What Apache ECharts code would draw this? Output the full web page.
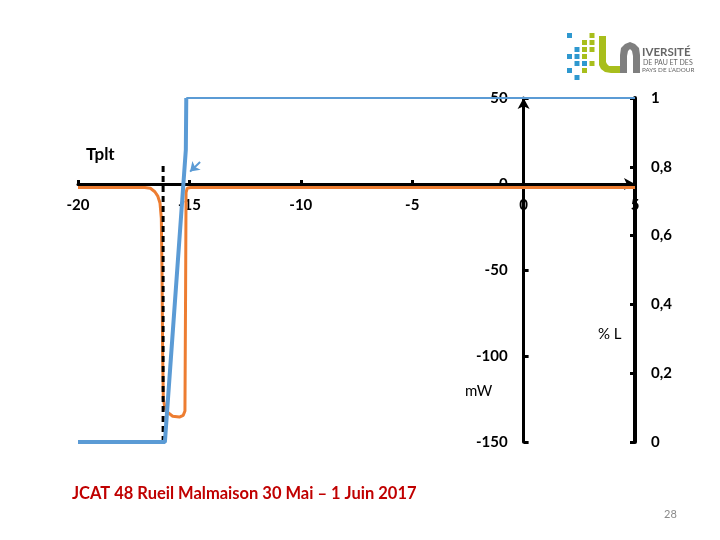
<!DOCTYPE html>
<html>
<head>
<meta charset="utf-8">
<script src="https://cdn.jsdelivr.net/npm/echarts@6/dist/echarts.min.js"></script>
<style>html,body{margin:0;padding:0;background:#fff;}#c{width:720px;height:540px;}</style>
</head>
<body>
<div id="c"></div>
<script>
// ---- data ----
const xTicks = [-20, -15, -10, -5, 0, 5];
const mWTicks = [-150, -100, -50, 0, 50];
const pctTicks = [0, 0.2, 0.4, 0.6, 0.8, 1];

// orange: power (mW) vs temperature
const orangeX = [-20, -17.0, -16.75, -16.55, -16.42, -16.32, -16.26, -16.23, -16.2, -16.17, -16.1, -16.0, -15.75, -15.45, -15.28, -15.2, -15.17, -15.15, -15.1, -14.95, 5];
const orangeY = [-2, -2, -2.5, -4.5, -7, -11, -20, -50, -100, -125, -130, -132.5, -135, -135.5, -134.5, -132, -60, -5, -2.5, -2, -2];

// blue: % liquid (thick rising part, then thin plateau)
const blueX = [-20, -16.1, -15.16, -15.14];
const blueY = [0, 0, 0.85, 1];
const bluePlateauX = [-15.14, 5];
const bluePlateauY = [1, 1];

// dashed vertical marker (Tplt)
const dashedX = [-16.18, -16.18];
const dashedY = [-150, 12];

// small arrow annotation (data units, mW axis)
const arrowFrom = [-14.52, 12.8];
const arrowTo = [-14.97, 7.2];

const zip = (a, b) => a.map((v, i) => [v, b[i]]);

const FONT = 'Lato';
const chart = echarts.init(document.getElementById('c'), null, {renderer: 'canvas'});

// layout
const G = {left: 78, right: 85, top: 98, bottom: 98};
const gw = 720 - G.left - G.right, gh = 540 - G.top - G.bottom;
const xMin = -20, xMax = 5, yMin = -150, yMax = 50;
const xAxisOffset = -(gh * (0 - yMin) / (yMax - yMin));   // move x axis up to mW = 0
const yAxisOffset = -(gw * (0 - xMin) / (xMax - xMin));   // move mW axis right to T = 0

const logoSquares = [
  [0,0,'b'],[3,0,'g'],
  [2,1,'g'],[3,1,'g'],
  [1,2,'b'],[2,2,'g'],[3,2,'g'],
  [0,3,'b'],[1,3,'b'],[2,3,'g'],
  [1,4,'b'],[2,4,'b'],[3,4,'g'],
  [0,5,'b'],[2,5,'g'],
  [1,6,'b']
];

const graphics = [
  {type:'text', x:86, y:146, style:{text:'Tplt', font:'bold 17px ' + FONT, fill:'#000'}},
  {type:'text', x:465, y:384, style:{text:'mW', font:'15px ' + FONT, fill:'#000'}},
  {type:'text', x:598, y:327, style:{text:'% L', font:'15px ' + FONT, fill:'#000'}},
  {type:'text', x:72, y:485, style:{text:'JCAT 48 Rueil Malmaison 30 Mai \u2013 1 Juin 2017', font:'bold 16.5px ' + FONT, fill:'#C00000'}},
  {type:'text', x:664, y:509, style:{text:'28', font:'11px ' + FONT, fill:'#8a8a8a'}},
  {type:'polygon', shape:{points:[[599,36],[606,36],[606,62],[607,64],[609,66],[612,66],[620,66],[620,73],[611,73],[605,72],[601,69],[599,65]]}, style:{fill:'#A8BE1C'}},
  {type:'polygon', shape:{points:[[620,73],[620,55],[621,48],[625,44],[630,42],[635,44],[639,48],[640,55],[640,73],[633,73],[633,56],[632,51],[630,49],[628,51],[627,56],[627,73]]}, style:{fill:'#7f7f7f'}},
  {type:'text', x:642, y:46, style:{text:'IVERSITÉ', font:'bold 11.5px ' + FONT, fill:'#666'}},
  {type:'text', x:643, y:59.5, style:{text:'DE PAU ET DES', font:'7px ' + FONT, fill:'#666'}},
  {type:'text', x:642, y:67, style:{text:'PAYS DE L\u2019ADOUR', font:'6.3px ' + FONT, fill:'#666'}}
];
logoSquares.forEach(([c, r, col]) => {
  graphics.push({type:'rect', shape:{x:567 + c*7.5, y:33 + r*7, width:5, height:5},
    style:{fill: col === 'b' ? '#2E98CF' : '#A8BE1C'}});
});

const tickLabel = {color: '#000', fontSize: 15, fontWeight: 'bold', fontFamily: FONT};

const option = {
  backgroundColor: '#ffffff',
  animation: false,
  textStyle: {fontFamily: FONT},
  grid: {left: G.left, right: G.right, top: G.top, bottom: G.bottom, containLabel: false},
  xAxis: {
    type: 'value', min: xMin, max: xMax, interval: 5, position: 'bottom', offset: xAxisOffset,
    axisLine: {show: true, onZero: false, symbol: ['none', 'arrow'], symbolSize: [9, 11],
      lineStyle: {color: '#000', width: 3}},
    axisTick: {show: true, inside: true, length: 4, lineStyle: {color: '#000', width: 3}},
    axisLabel: Object.assign({}, tickLabel, {margin: 14,
      formatter: v => xTicks.includes(v) ? String(v) : ''}),
    splitLine: {show: false}
  },
  yAxis: [
    {
      type: 'value', min: yMin, max: yMax, interval: 50, position: 'left', offset: yAxisOffset,
      axisLine: {show: true, onZero: false, symbol: ['none', 'arrow'], symbolSize: [9, 11],
        lineStyle: {color: '#000', width: 3}},
      axisTick: {show: true, inside: true, length: 5, lineStyle: {color: '#000', width: 3}},
      axisLabel: Object.assign({}, tickLabel, {margin: 16,
        formatter: v => mWTicks.includes(v) ? String(v) : ''}),
      splitLine: {show: false}
    },
    {
      type: 'value', min: 0, max: 1, interval: 0.2, position: 'right',
      axisLine: {show: true, onZero: false, lineStyle: {color: '#000', width: 4}},
      axisTick: {show: true, inside: true, length: 5, lineStyle: {color: '#000', width: 3}},
      axisLabel: Object.assign({}, tickLabel, {margin: 16,
        formatter: v => {
          const t = pctTicks.find(p => Math.abs(p - v) < 1e-9);
          return t === undefined ? '' : String(+t.toFixed(1)).replace('.', ',');
        }}),
      splitLine: {show: false}
    }
  ],
  series: [
    {
      type: 'line', yAxisIndex: 0, data: zip(orangeX, orangeY), showSymbol: false, symbol: 'none',
      lineStyle: {color: '#ED7D31', width: 3}, z: 3
    },
    {
      type: 'line', yAxisIndex: 0, data: zip(dashedX, dashedY), showSymbol: false, symbol: 'none',
      lineStyle: {color: '#000', width: 3, type: [6, 4]}, z: 4
    },
    {
      type: 'line', yAxisIndex: 1, data: zip(blueX, blueY), showSymbol: false, symbol: 'none',
      lineStyle: {color: '#5B9BD5', width: 4}, z: 5
    },
    {
      type: 'line', yAxisIndex: 1, data: zip(bluePlateauX, bluePlateauY), showSymbol: false, symbol: 'none',
      lineStyle: {color: '#5B9BD5', width: 2}, z: 5
    },
    {
      type: 'line', yAxisIndex: 0, data: [], showSymbol: false,
      markLine: {
        silent: true, symbol: ['none', 'arrow'], symbolSize: 9, animation: false,
        label: {show: false},
        lineStyle: {color: '#5B9BD5', width: 2, type: 'solid'},
        data: [[{coord: arrowFrom}, {coord: arrowTo}]]
      }
    }
  ],
  graphic: graphics
};
chart.setOption(option);
</script>
</body>
</html>
